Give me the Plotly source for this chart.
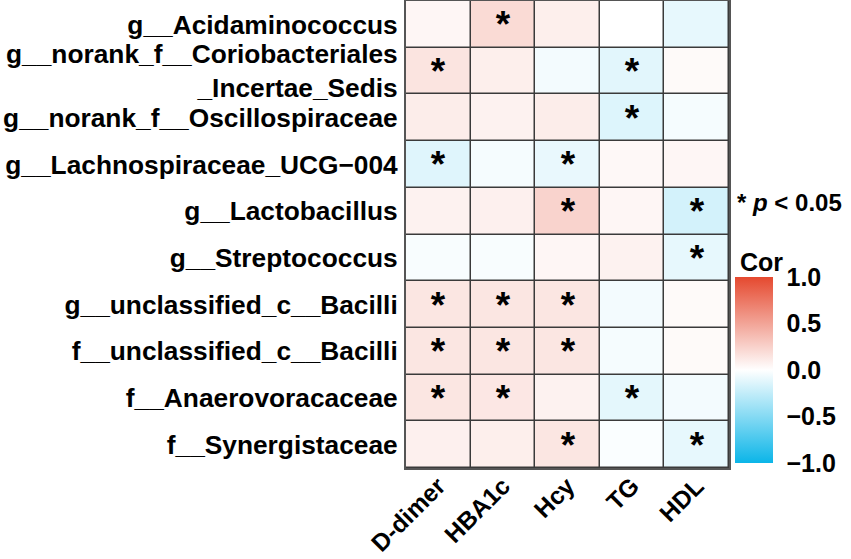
import plotly.graph_objects as go

rows = ["g__Acidaminococcus",
        "g__norank_f__Coriobacteriales<br>_Incertae_Sedis",
        "g__norank_f__Oscillospiraceae",
        "g__Lachnospiraceae_UCG\u2212004",
        "g__Lactobacillus",
        "g__Streptococcus",
        "g__unclassified_c__Bacilli",
        "f__unclassified_c__Bacilli",
        "f__Anaerovoracaceae",
        "f__Synergistaceae"]
cols = ["D-dimer", "HBA1c", "Hcy", "TG", "HDL"]

cor = [
    [0.05, 0.20, 0.09, 0.00, -0.10],
    [0.15, 0.09, -0.05, -0.12, 0.03],
    [0.10, 0.07, 0.10, -0.14, -0.04],
    [-0.13, -0.04, -0.09, 0.04, 0.05],
    [0.07, 0.08, 0.24, 0.05, -0.18],
    [-0.03, -0.03, 0.05, 0.07, -0.10],
    [0.14, 0.14, 0.14, -0.05, 0.03],
    [0.14, 0.14, 0.14, -0.04, 0.03],
    [0.14, 0.13, 0.07, -0.11, -0.05],
    [0.08, 0.09, 0.14, -0.02, -0.10],
]
sig = [
    ["", "*", "", "", ""],
    ["*", "", "", "*", ""],
    ["", "", "", "*", ""],
    ["*", "", "*", "", ""],
    ["", "", "*", "", "*"],
    ["", "", "", "", "*"],
    ["*", "*", "*", "", ""],
    ["*", "*", "*", "", ""],
    ["*", "*", "", "*", ""],
    ["", "", "*", "", "*"],
]
cbar_ticks = [-1, -0.5, 0, 0.5, 1]
cbar_labels = ["\u22121.0", "\u22120.5", "0.0", "0.5", "1.0"]

FONT = "Liberation Sans"
W, H = 851, 559
L, R, T, B = 406, 122, 1, 91
PW, PH = W - L - R, H - T - B

# colorbar geometry (pixels)
CB_X0, CB_W = 735, 38
CB_Y0, CB_Y1 = 277, 463

def px_x(px):
    return (px - L) / PW

def px_y(py):
    return 1 - (py - T) / PH

fig = go.Figure(go.Heatmap(
    z=cor, x=cols, y=rows, text=sig, texttemplate="%{text}",
    textfont=dict(family=FONT, size=37, color="black", weight="bold"),
    zmin=-1, zmax=1,
    colorscale=[[0, "#0BB5E8"], [0.5, "#FFFFFF"], [1, "#E5492F"]],
    xgap=1.5, ygap=1.5,
    colorbar=dict(
        x=px_x(CB_X0), xanchor="left", xpad=0,
        y=px_y((CB_Y0 + CB_Y1) / 2), yanchor="middle", ypad=0,
        thickness=CB_W, thicknessmode="pixels",
        len=CB_Y1 - CB_Y0, lenmode="pixels",
        outlinewidth=0,
        tickvals=cbar_ticks, ticktext=cbar_labels,
        ticks="outside", ticklen=9, tickcolor="white", tickwidth=1,
        tickfont=dict(family=FONT, size=25, color="black", weight="bold"),
    ),
    hoverinfo="skip",
))

shapes = []
for v in cbar_ticks:
    py = (CB_Y0 + CB_Y1) / 2 - v * (CB_Y1 - CB_Y0) / 2
    for xa, xb in [(CB_X0, CB_X0 + 6), (CB_X0 + CB_W - 6, CB_X0 + CB_W)]:
        shapes.append(dict(type="line", xref="paper", yref="paper",
                           x0=px_x(xa), x1=px_x(xb), y0=px_y(py), y1=px_y(py),
                           line=dict(color="white", width=1.2)))

fig.update_layout(
    width=W, height=H,
    margin=dict(l=L, r=R, t=T, b=B, autoexpand=False),
    paper_bgcolor="white", plot_bgcolor="#3a3a3a",
    font=dict(family=FONT, color="black"),
    xaxis=dict(tickangle=-45, tickfont=dict(family=FONT, size=24.5, color="black", weight="bold"),
               showline=True, mirror=True, linecolor="#555555", linewidth=2,
               ticks="", showgrid=False, zeroline=False, ticklabelstandoff=-8),
    yaxis=dict(autorange="reversed", tickfont=dict(family=FONT, size=26.3, color="black", weight="bold"),
               showline=True, mirror=True, linecolor="#555555", linewidth=2,
               ticks="", showgrid=False, zeroline=False, ticklabelstandoff=1),
    shapes=shapes,
    annotations=[
        dict(text="<b>* <i>p</i> &lt; 0.05</b>", xref="paper", yref="paper",
             x=px_x(735), y=px_y(203), xanchor="left", yanchor="middle", showarrow=False,
             font=dict(family=FONT, size=24, color="black")),
        dict(text="<b>Cor</b>", xref="paper", yref="paper",
             x=px_x(738), y=px_y(262), xanchor="left", yanchor="middle", showarrow=False,
             font=dict(family=FONT, size=25, color="black")),
    ],
)

fig.write_html("out.html", config={"displayModeBar": False},
               post_script="document.body.style.margin='0';document.body.style.padding='0';")
